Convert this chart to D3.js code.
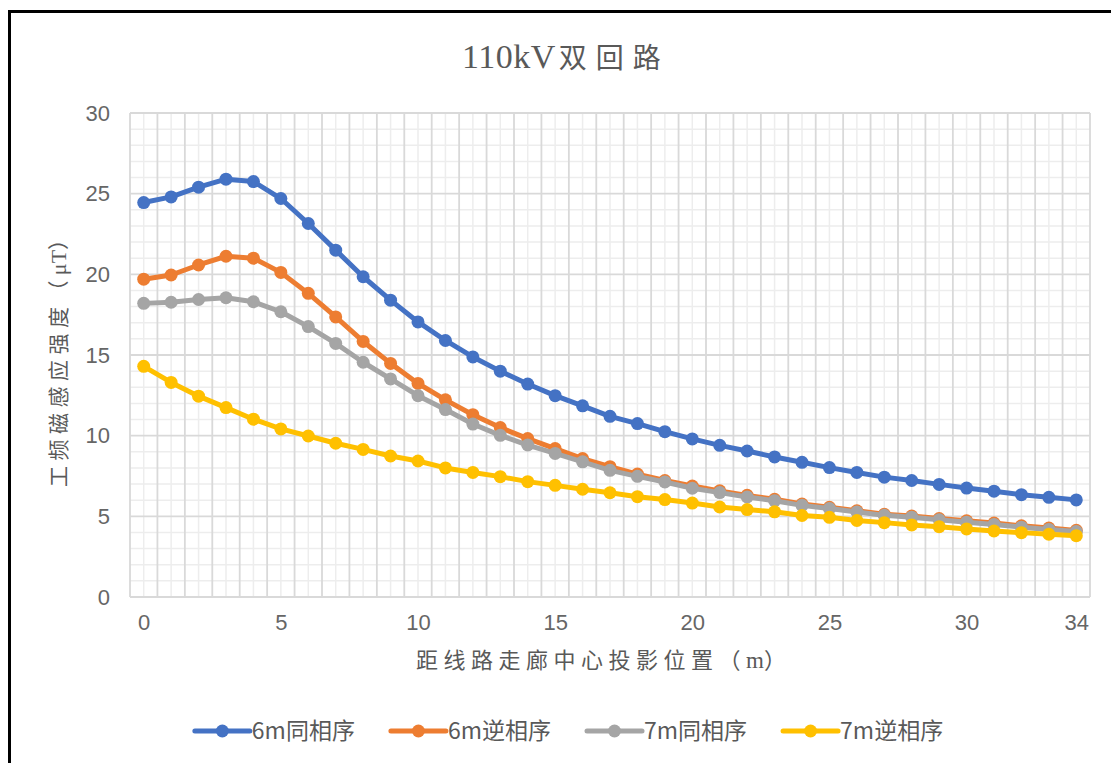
<!DOCTYPE html>
<html>
<head>
<meta charset="utf-8">
<script src="https://cdn.jsdelivr.net/npm/d3@7"></script>
<style>
  html, body { margin: 0; padding: 0; background: #fff; }
  svg { display: block; }
</style>
</head>
<body>
<svg id="chart" width="1111" height="763"></svg>
<script>
// Distance from the corridor centre projection (m)
const distances = d3.range(0, 35);

// Power-frequency magnetic induction (μT), 110kV double-circuit line
const s6mSame = [24.45, 24.8, 25.4, 25.9, 25.75, 24.7, 23.15, 21.5, 19.85, 18.4, 17.05, 15.9, 14.88, 14.0, 13.2, 12.48, 11.85, 11.2, 10.75, 10.25, 9.8, 9.4, 9.05, 8.68, 8.35, 8.02, 7.72, 7.43, 7.22, 6.98, 6.75, 6.56, 6.34, 6.18, 6.02];
const s6mReverse = [19.7, 19.96, 20.58, 21.12, 21.0, 20.12, 18.82, 17.36, 15.84, 14.48, 13.24, 12.22, 11.3, 10.5, 9.82, 9.2, 8.58, 8.08, 7.62, 7.22, 6.88, 6.58, 6.3, 6.06, 5.76, 5.56, 5.34, 5.13, 5.02, 4.86, 4.72, 4.58, 4.41, 4.27, 4.13];
const s7mSame = [18.2, 18.27, 18.44, 18.55, 18.3, 17.68, 16.76, 15.72, 14.55, 13.52, 12.48, 11.62, 10.72, 10.02, 9.42, 8.9, 8.38, 7.85, 7.48, 7.13, 6.74, 6.47, 6.2, 5.97, 5.68, 5.48, 5.27, 5.06, 4.95, 4.79, 4.64, 4.5, 4.33, 4.19, 4.06];
const s7mReverse = [14.3, 13.3, 12.45, 11.74, 11.02, 10.42, 9.98, 9.53, 9.15, 8.74, 8.43, 8.0, 7.72, 7.46, 7.15, 6.92, 6.68, 6.46, 6.22, 6.04, 5.82, 5.58, 5.42, 5.28, 5.05, 4.94, 4.74, 4.61, 4.47, 4.36, 4.22, 4.09, 3.99, 3.89, 3.8];

const seriesNames = ["6m同相序", "6m逆相序", "7m同相序", "7m逆相序"];
const seriesValues = [s6mSame, s6mReverse, s7mSame, s7mReverse];
const seriesColors = ["#4472C4", "#ED7D31", "#A5A5A5", "#FFC000"];

const xTickLabels = [0, 5, 10, 15, 20, 25, 30, 34];
const yTickLabels = [0, 5, 10, 15, 20, 25, 30];

const titleLatin = "110kV";
const titleCJK = "双回路";
const yTitleParts = ["工频磁感应强度（", "μT", "）"];
const xTitleParts = ["距线路走廊中心投影位置（", "m", "）"];

const svg = d3.select("#chart");
const plot = { left: 130, right: 1090, top: 113, bottom: 597 };

// Category axis: each distance sits in the middle of its own slot
const x = d3.scaleLinear().domain([-0.5, distances.length - 0.5]).range([plot.left, plot.right]);
const y = d3.scaleLinear().domain([0, 30]).range([plot.bottom, plot.top]);

// Outer frame (top and left edges)
svg.append("path")
  .attr("d", "M9.5,763 L9.5,11.5 L1111,11.5")
  .attr("fill", "none").attr("stroke", "#000").attr("stroke-width", 3);

// Title
const title = svg.append("text")
  .attr("x", 462).attr("y", 68)
  .attr("fill", "#595959");
title.append("tspan").text(titleLatin)
  .attr("font-family", "'Liberation Serif', 'DejaVu Serif', serif")
  .attr("font-size", 34).attr("letter-spacing", 0.5);
title.append("tspan").text(titleCJK)
  .attr("dx", 3)
  .attr("font-family", "'Noto Sans CJK SC', sans-serif")
  .attr("font-size", 28).attr("letter-spacing", 9);

// Grid: minor lines first, then major
const grid = svg.append("g");
grid.selectAll("line.ymin")
  .data(d3.range(0, 31).filter(v => v % 5 !== 0))
  .join("line")
  .attr("x1", plot.left).attr("x2", plot.right)
  .attr("y1", d => y(d)).attr("y2", d => y(d))
  .attr("stroke", "#ededed").attr("stroke-width", 1.5);
grid.selectAll("line.xmin")
  .data(distances)
  .join("line")
  .attr("x1", d => x(d)).attr("x2", d => x(d))
  .attr("y1", plot.top).attr("y2", plot.bottom)
  .attr("stroke", "#ededed").attr("stroke-width", 1.5);
grid.selectAll("line.xmaj")
  .data(d3.range(0, distances.length + 1))
  .join("line")
  .attr("x1", d => x(d - 0.5)).attr("x2", d => x(d - 0.5))
  .attr("y1", plot.top).attr("y2", plot.bottom)
  .attr("stroke", "#d9d9d9").attr("stroke-width", 1.8);
grid.selectAll("line.ymaj")
  .data(yTickLabels)
  .join("line")
  .attr("x1", plot.left).attr("x2", plot.right)
  .attr("y1", d => y(d)).attr("y2", d => y(d))
  .attr("stroke", "#d9d9d9").attr("stroke-width", 1.8);

// Axes
const tickFont = "'Liberation Sans', Arial, sans-serif";
const yAxis = svg.append("g")
  .attr("transform", `translate(${plot.left},0)`)
  .call(d3.axisLeft(y).tickValues(yTickLabels).tickSize(0).tickPadding(20));
yAxis.select(".domain").remove();
yAxis.selectAll("text")
  .attr("font-family", tickFont).attr("font-size", 22).attr("fill", "#666");

const xAxis = svg.append("g")
  .attr("transform", `translate(0,${plot.bottom})`)
  .call(d3.axisBottom(x).tickValues(xTickLabels).tickSize(0).tickPadding(17).tickFormat(d3.format("d")));
xAxis.select(".domain").remove();
xAxis.selectAll("text")
  .attr("font-family", tickFont).attr("font-size", 22).attr("fill", "#666");

// Axis titles
function addTitle(sel, parts, size, spacing) {
  sel.append("tspan").text(parts[0]).attr("letter-spacing", spacing);
  sel.append("tspan").text(parts[1]).attr("font-family", "'Liberation Serif', serif").attr("font-size", size + 1);
  sel.append("tspan").text(parts[2]);
}
const yt = svg.append("text")
  .attr("transform", "translate(66,358) rotate(-90)")
  .attr("text-anchor", "middle")
  .attr("font-family", "'Noto Sans CJK SC', sans-serif")
  .attr("font-size", 21)
  .attr("fill", "#595959");
addTitle(yt, yTitleParts, 21, 5.5);

const xt = svg.append("text")
  .attr("x", 601).attr("y", 668)
  .attr("text-anchor", "middle")
  .attr("font-family", "'Noto Sans CJK SC', sans-serif")
  .attr("font-size", 22)
  .attr("fill", "#595959");
addTitle(xt, xTitleParts, 22, 5.5);

// Series lines and markers
const line = d3.line().x((d, i) => x(distances[i])).y(d => y(d));
seriesValues.forEach((vals, k) => {
  const g = svg.append("g");
  g.append("path")
    .attr("d", line(vals))
    .attr("fill", "none")
    .attr("stroke", seriesColors[k])
    .attr("stroke-width", 5)
    .attr("stroke-linejoin", "round")
    .attr("stroke-linecap", "round");
  g.selectAll("circle")
    .data(vals)
    .join("circle")
    .attr("cx", (d, i) => x(distances[i]))
    .attr("cy", d => y(d))
    .attr("r", 6.5)
    .attr("fill", seriesColors[k]);
});

// Legend, centred under the plot
const legendY = 731;
const legend = svg.append("g");
const items = legend.selectAll("g")
  .data(seriesNames)
  .join("g");
items.append("line")
  .attr("x1", 0).attr("x2", 55)
  .attr("y1", 0).attr("y2", 0)
  .attr("stroke", (d, i) => seriesColors[i])
  .attr("stroke-width", 5).attr("stroke-linecap", "round");
items.append("circle")
  .attr("cx", 27.5).attr("cy", 0).attr("r", 6.5)
  .attr("fill", (d, i) => seriesColors[i]);
items.append("text")
  .attr("x", 57).attr("y", 0).attr("dy", "0.35em")
  .attr("font-family", "'Noto Sans CJK SC', sans-serif")
  .attr("font-size", 23)
  .attr("fill", "#595959")
  .text(d => d);

let cursor = 0;
const gap = 36;
items.each(function () {
  const w = 57 + d3.select(this).select("text").node().getComputedTextLength();
  d3.select(this).attr("transform", `translate(${cursor},${legendY})`);
  cursor += w + gap;
});
const total = cursor - gap;
legend.attr("transform", `translate(${569 - total / 2},0)`);
</script>
</body>
</html>
